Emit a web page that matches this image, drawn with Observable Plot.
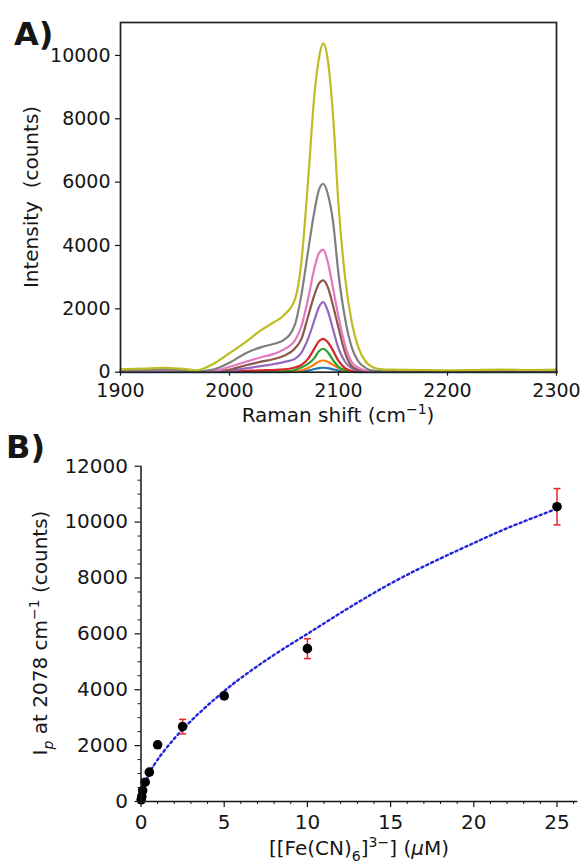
<!DOCTYPE html>
<html>
<head>
<meta charset="utf-8">
<script src="https://cdn.jsdelivr.net/npm/d3@7"></script>
<script src="https://cdn.jsdelivr.net/npm/@observablehq/plot@0.6"></script>
<style>
  body { margin: 0; background: #fff; }
  #wrap { position: relative; width: 582px; height: 865px; background: #fff; }
  #wrap svg { display: block; }
</style>
</head>
<body>
<div id="wrap"></div>
<script>
// ---------- Panel A data: Raman spectra ----------
const ramanShift = [1900, 1920, 1940, 1955, 1970, 1985, 2000, 2015, 2030, 2040, 2050, 2060, 2066, 2072, 2078, 2082, 2086, 2090, 2095, 2100, 2106, 2112, 2118, 2125, 2132, 2140, 2150, 2175, 2200, 2225, 2250, 2275, 2300];
const s1Counts = [5,5,5,5,5, 5,5,5,5,5, 5,10,20,50,100, 130,140,130,90,50, 20,8,5,5,5, 5,5,5,5,5, 5,5,5];
const s2Counts = [10,10,10,10,10, 10,10,10,10,10, 15,30,60,130,250, 340,370,330,230,130, 50,15,10,10,10, 10,10,10,10,10, 10,10,10];
const s3Counts = [10,10,10,10,10, 10,10,15,20,20, 30,70,150,260,450, 660,740,640,380,170, 60,15,10,10,10, 10,10,10,10,10, 10,10,10];
const s4Counts = [10,10,10,10,10, 10,20,40,60,70, 90,150,230,420,750, 980,1050,950,680,360, 130,40,10,10,10, 10,10,10,10,10, 10,10,10];
const s5Counts = [10,10,10,10,10, 10,40,120,200,250, 320,420,620,1050,1650, 2050,2210,1950,1350,750, 330,130,40,10,10, 10,10,10,10,10, 10,10,10];
const s6Counts = [20,20,20,20,10, 10,80,220,340,410, 520,750,1050,1750,2450, 2800,2900,2700,2100,1400, 620,200,70,20,10, 10,10,10,10,10, 10,10,10];
const s7Counts = [20,20,30,20,10, 30,170,330,480,570, 720,1000,1450,2300,3300, 3750,3870,3500,2650,1750, 850,330,140,50,20, 10,10,10,10,10, 10,10,10];
const s8Counts = [60,70,90,60,30, 80,300,600,800,890, 1020,1500,2450,3800,5100, 5750,5950,5650,4750,3100, 1700,800,350,130,50, 30,30,30,20,30, 30,20,30];
const s9Counts = [90,110,140,110,60, 260,600,960,1350,1560, 1800,2300,3500,6000,8800, 9900,10380,9900,8100,5300, 3000,1600,800,330,150, 90,80,70,60,70, 80,70,80];
const seriesNames  = ["S1", "S2", "S3", "S4", "S5", "S6", "S7", "S8", "S9"];
const seriesColors = ["#1f77b4", "#ff7f0e", "#2ca02c", "#d62728", "#9467bd", "#8c564b", "#e377c2", "#7f7f7f", "#bcbd22"];
const seriesValues = [s1Counts, s2Counts, s3Counts, s4Counts, s5Counts, s6Counts, s7Counts, s8Counts, s9Counts];
const xTicksA = [1900, 2000, 2100, 2200, 2300];
const yTicksA = [0, 2000, 4000, 6000, 8000, 10000];

// ---------- Panel B data: calibration ----------
const concentration = [0.01, 0.05, 0.1, 0.25, 0.5, 1, 2.5, 5, 10, 25];
const peakIntensity = [60, 180, 390, 690, 1050, 2030, 2680, 3780, 5470, 10550];
const peakError     = [40, 50, 60, 60, 70, 80, 260, 100, 355, 650];
const fitConc       = [0.05, 0.25, 0.5, 1, 2, 3, 4, 5, 6, 8, 10, 12, 15, 18, 20, 22, 25];
const fitIntensity  = [250, 650, 1000, 1500, 2250, 2880, 3440, 3950, 4420, 5250, 6000, 6750, 7800, 8700, 9250, 9780, 10480];
const xTicksB = [0, 5, 10, 15, 20, 25];
const xMinorB = [1, 2, 3, 4, 6, 7, 8, 9, 11, 12, 13, 14, 16, 17, 18, 19, 21, 22, 23, 24, 26];
const yTicksB = [0, 2000, 4000, 6000, 8000, 10000, 12000];
const yMinorB = [500, 1000, 1500, 2500, 3000, 3500, 4500, 5000, 5500, 6500, 7000, 7500, 8500, 9000, 9500, 10500, 11000, 11500];

// ---------- helpers ----------
const ink = "#161616";
const fmt = d3.format("d");
const spectra = seriesNames.flatMap((name, k) =>
  ramanShift.map((s, i) => ({shift: s, counts: seriesValues[k][i], series: name})));
const calib = concentration.map((c, i) => ({c, v: peakIntensity[i], lo: peakIntensity[i] - peakError[i], hi: peakIntensity[i] + peakError[i]}));
const fit = fitConc.map((c, i) => ({c, v: fitIntensity[i]}));

const capSymbol = {
  draw(ctx, size) {
    const r = Math.sqrt(size / Math.PI);
    ctx.moveTo(-r, 0);
    ctx.lineTo(r, 0);
  }
};

function addLabel(svg, {x, y, rotate = 0, size = 20, weight = "normal", anchor = "middle", parts}) {
  const t = d3.select(svg).append("text")
    .attr("transform", `translate(${x},${y}) rotate(${rotate})`)
    .attr("text-anchor", anchor)
    .attr("font-family", "DejaVu Sans, sans-serif")
    .attr("font-size", size)
    .attr("font-weight", weight)
    .attr("fill", ink)
    .style("white-space", "pre");
  let shift = 0;
  for (const p of parts) {
    const ts = t.append("tspan").text(p.t);
    let target = 0;
    if (p.sup) { target = -size * 0.42; ts.attr("font-size", size * 0.7); }
    if (p.sub) { target = size * 0.28; ts.attr("font-size", size * 0.7); }
    if (p.italic) ts.attr("font-style", "italic");
    if (target !== shift) { ts.attr("dy", target - shift); shift = target; }
  }
}

const wrap = document.getElementById("wrap");

// ---------- Panel A ----------
const plotA = Plot.plot({
  width: 582,
  height: 430,
  marginLeft: 120,
  marginRight: 26,
  marginTop: 22,
  marginBottom: 58.3,
  style: {fontFamily: "DejaVu Sans, sans-serif", fontSize: "19px", color: ink, background: "#fff", overflow: "visible"},
  x: {domain: [1900, 2300]},
  y: {domain: [0, 11040]},
  color: {type: "ordinal", domain: seriesNames, range: seriesColors},
  marks: [
    Plot.line(spectra, {x: "shift", y: "counts", z: "series", stroke: "series", curve: "monotone-x", strokeWidth: 2.2}),
    Plot.frame({stroke: "#222", strokeWidth: 1.7}),
    Plot.axisY({ticks: yTicksA, tickSize: 5, tickPadding: 5, tickFormat: fmt, label: null, strokeWidth: 1.2}),
    Plot.axisX({ticks: xTicksA, tickSize: 4, tickPadding: 7, tickFormat: fmt, label: null, strokeWidth: 1.2})
  ]
});
wrap.appendChild(plotA);
addLabel(plotA, {x: 14, y: 45, size: 32, weight: "bold", anchor: "start", parts: [{t: "A)"}]});
addLabel(plotA, {x: 38, y: 197, rotate: -90, size: 20, parts: [{t: "Intensity  (counts)"}]});
addLabel(plotA, {x: 338, y: 422, size: 20, parts: [{t: "Raman shift (cm"}, {t: "\u22121", sup: true}, {t: ")"}]});

// ---------- Panel B ----------
const plotB = Plot.plot({
  width: 582,
  height: 435,
  marginLeft: 140.5,
  marginRight: 4.7,
  marginTop: 35.7,
  marginBottom: 64,
  style: {fontFamily: "DejaVu Sans, sans-serif", fontSize: "20px", color: ink, background: "#fff", overflow: "visible"},
  x: {domain: [0, 26.25]},
  y: {domain: [0, 12000]},
  marks: [
    Plot.line(fit, {x: "c", y: "v", curve: "natural", stroke: "#2424dc", strokeWidth: 2.4, strokeDasharray: "2.2,3.2"}),
    Plot.ruleX(calib, {x: "c", y1: "lo", y2: "hi", stroke: "#e8242c", strokeWidth: 1.5}),
    Plot.dot(calib, {x: "c", y: "lo", symbol: capSymbol, r: 3.5, stroke: "#e8242c", strokeWidth: 1.5, fill: "none"}),
    Plot.dot(calib, {x: "c", y: "hi", symbol: capSymbol, r: 3.5, stroke: "#e8242c", strokeWidth: 1.5, fill: "none"}),
    Plot.dot(calib, {x: "c", y: "v", r: 4.8, fill: "#000", stroke: "none"}),
    Plot.ruleX([0], {stroke: ink, strokeWidth: 1.5}),
    Plot.ruleY([0], {stroke: ink, strokeWidth: 1.5}),
    Plot.axisY(yMinorB, {tickSize: 3, tickFormat: () => "", label: null, strokeWidth: 1}),
    Plot.axisX(xMinorB, {tickSize: 3, tickFormat: () => "", label: null, strokeWidth: 1}),
    Plot.axisY({ticks: yTicksB, tickSize: 6, tickPadding: 7, tickFormat: fmt, label: null, strokeWidth: 1.2}),
    Plot.axisX({ticks: xTicksB, tickSize: 6, tickPadding: 7, tickFormat: fmt, label: null, strokeWidth: 1.2})
  ]
});
wrap.appendChild(plotB);
addLabel(plotB, {x: 6, y: 28, size: 32, weight: "bold", anchor: "start", parts: [{t: "B)"}]});
addLabel(plotB, {x: 47, y: 203, rotate: -90, size: 20, parts: [
  {t: "I"}, {t: "p", sub: true, italic: true}, {t: " at 2078 cm"}, {t: "\u22121", sup: true}, {t: " (counts)"}
]});
addLabel(plotB, {x: 359, y: 425, size: 20, parts: [
  {t: "[[Fe(CN)"}, {t: "6", sub: true}, {t: "]"}, {t: "3\u2212", sup: true}, {t: "] ("}, {t: "\u03bc", italic: true}, {t: "M)"}
]});
</script>
</body>
</html>
